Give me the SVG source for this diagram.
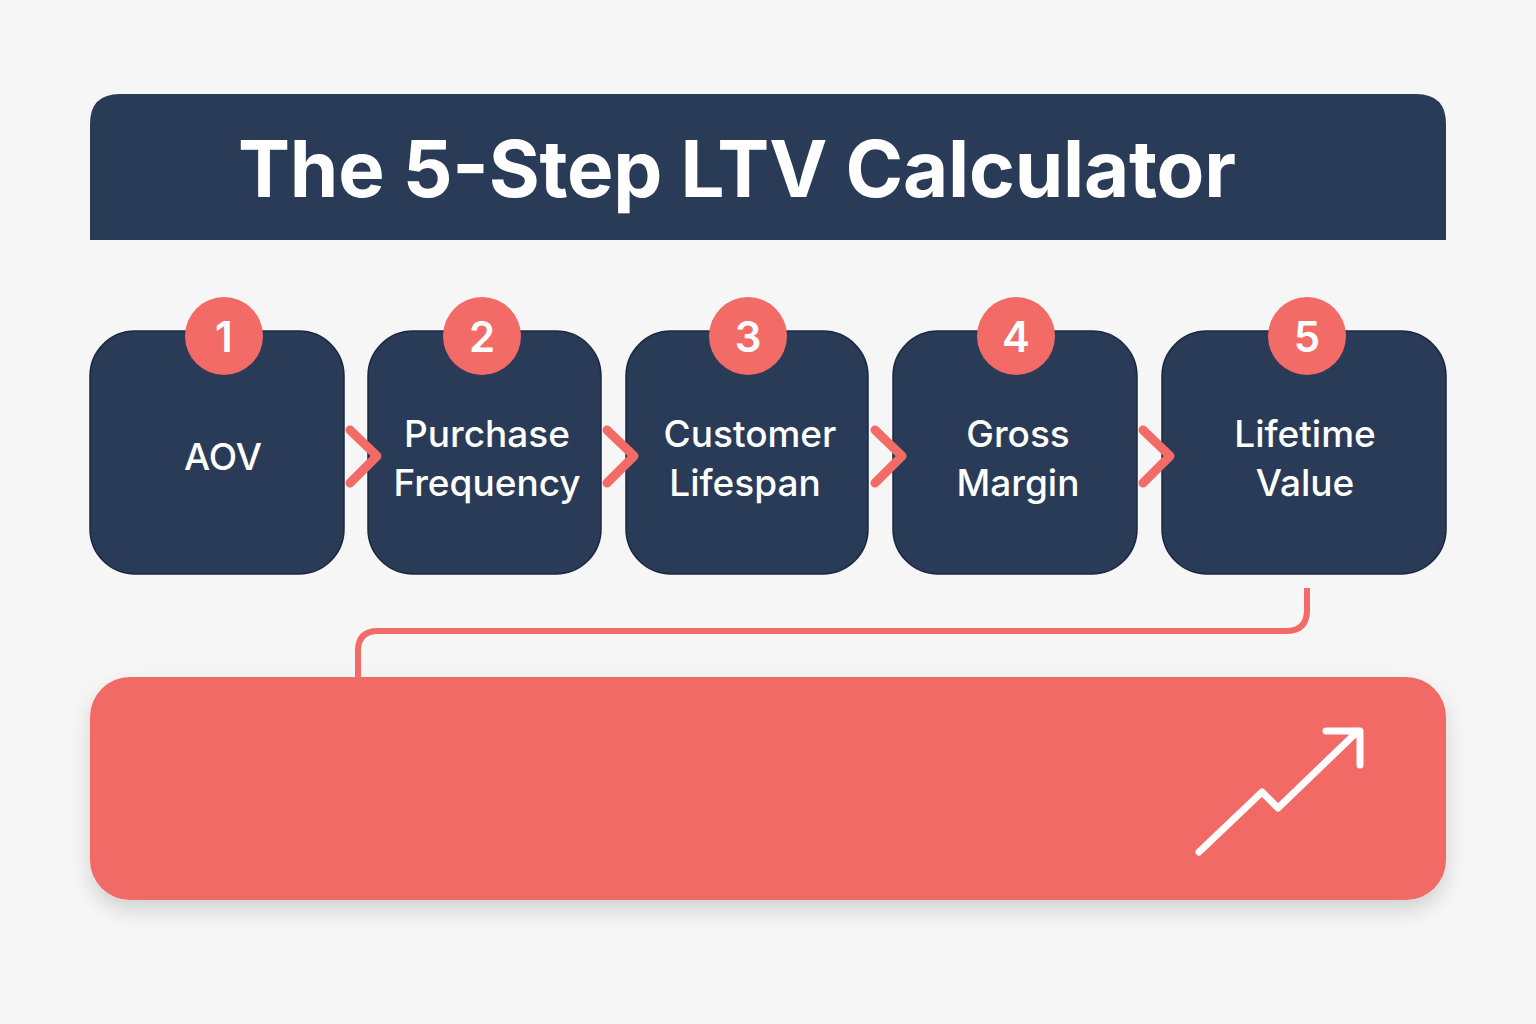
<svg xmlns="http://www.w3.org/2000/svg" width="1536" height="1024" viewBox="0 0 1536 1024">
<defs>
<style>
.box{fill:#2a3b58;stroke:#1c2940;stroke-width:1.5}
.badge{fill:#f26b66}
.bn{font-family:Inter,"Noto Sans",sans-serif;font-weight:600;font-size:42px;fill:#fff;text-anchor:middle}
.lbl{font-family:Inter,"Noto Sans",sans-serif;font-weight:500;font-size:37px;fill:#fff;text-anchor:middle}
.chev{fill:none;stroke:#f26b66;stroke-width:9;stroke-linecap:round;stroke-linejoin:round}
.con{fill:none;stroke:#f26b66;stroke-width:6}
</style>
<filter id="sh" x="-10%" y="-20%" width="120%" height="150%"><feDropShadow dx="0" dy="10" stdDeviation="10" flood-color="#000" flood-opacity="0.15"/></filter>
</defs>
<rect width="1536" height="1024" fill="#f6f6f6"/>
<g id="header">
<path d="M120 94 H1416 Q1446 94 1446 124 V240 H90 V124 Q90 94 120 94 Z" fill="#2a3b58"/>
<text x="737" y="197" font-family="Inter,'Noto Sans',sans-serif" font-weight="700" font-size="78" fill="#fff" text-anchor="middle" textLength="998">The 5-Step LTV Calculator</text>
</g>
<g id="step1"><rect class="box" x="90" y="331" width="254" height="243" rx="45"/><circle class="badge" cx="224" cy="336" r="39"/><text class="bn" x="224" y="352">1</text><text class="lbl" x="223" y="470">AOV</text></g>
<g id="step2"><rect class="box" x="368" y="331" width="233" height="243" rx="45"/><circle class="badge" cx="482" cy="336" r="39"/><text class="bn" x="482" y="352">2</text><text class="lbl" x="487" y="447">Purchase</text><text class="lbl" x="487" y="496">Frequency</text></g>
<g id="step3"><rect class="box" x="626" y="331" width="242" height="243" rx="45"/><circle class="badge" cx="748" cy="336" r="39"/><text class="bn" x="748" y="352">3</text><text class="lbl" x="750" y="447">Customer</text><text class="lbl" x="745" y="496">Lifespan</text></g>
<g id="step4"><rect class="box" x="893" y="331" width="244" height="243" rx="45"/><circle class="badge" cx="1016" cy="336" r="39"/><text class="bn" x="1016" y="352">4</text><text class="lbl" x="1018" y="447">Gross</text><text class="lbl" x="1018" y="496">Margin</text></g>
<g id="step5"><rect class="box" x="1162" y="331" width="284" height="243" rx="45"/><circle class="badge" cx="1307" cy="336" r="39"/><text class="bn" x="1307" y="352">5</text><text class="lbl" x="1305" y="447">Lifetime</text><text class="lbl" x="1305" y="496">Value</text></g>
<g id="result">
<rect x="90" y="677" width="1356" height="223" rx="40" fill="#f26b66" filter="url(#sh)"/>
<path d="M1199 852 L1262 792 L1278 808 L1358 731 M1326 731 H1360 V765" fill="none" stroke="#fff" stroke-width="7" stroke-linecap="round" stroke-linejoin="round"/>
</g>
<g id="connectors">
<path class="chev" d="M350 430 L377 456 L350 483"/>
<path class="chev" d="M607 430 L634 456 L607 483"/>
<path class="chev" d="M875 430 L902 456 L875 483"/>
<path class="chev" d="M1143 430 L1170 456 L1143 483"/>
<path class="con" d="M1307 588 V610 Q1307 631 1286 631 H378 Q358 631 358 651 V677"/>
</g>
</svg>
